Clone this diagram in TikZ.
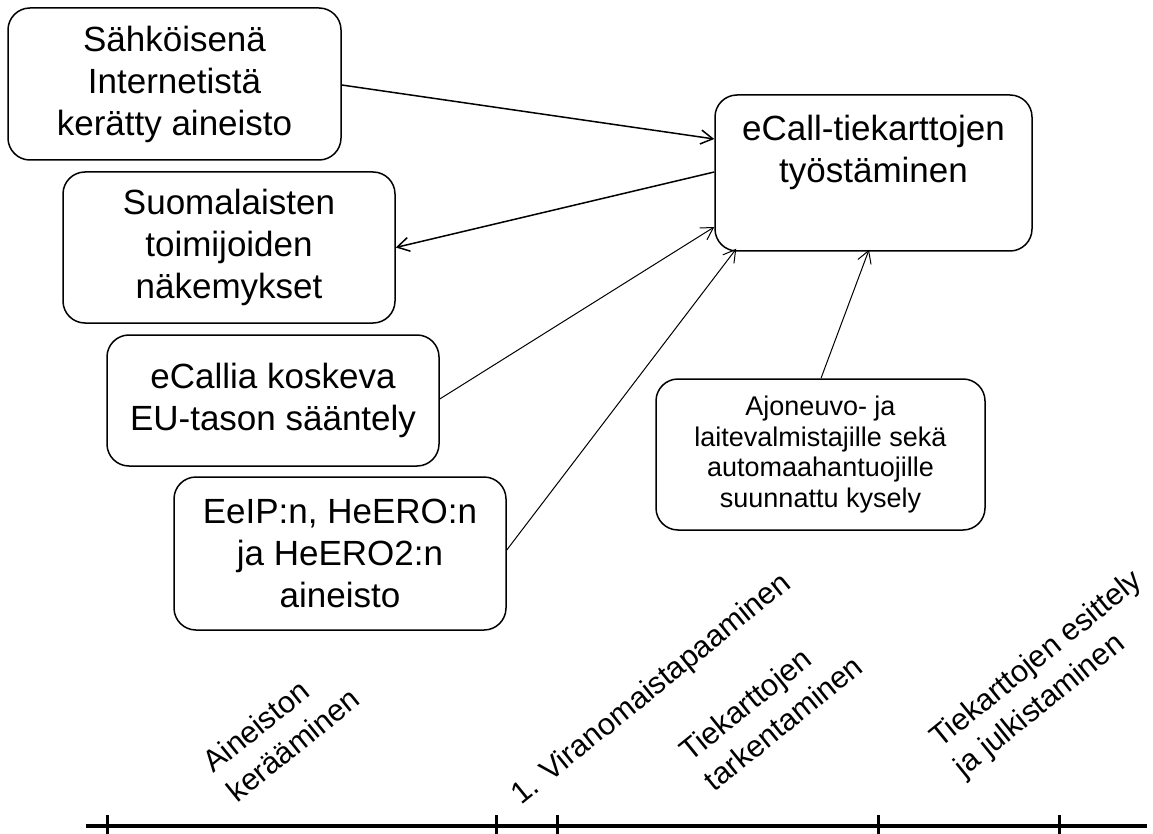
\documentclass[tikz,border=0pt]{standalone}
\usepackage{fontspec}
\setmainfont{Liberation Sans}
\usetikzlibrary{arrows.meta,calc}
\begin{document}
\begin{tikzpicture}[x=1pt,y=-1pt,
  box/.style={draw=black, line width=1.5pt, rounded corners=22pt, align=center, inner sep=0pt},
  bigtext/.style={font=\fontsize{35}{42}\selectfont},
  smalltext/.style={font=\fontsize{27}{30.5}\selectfont},
  lab/.style={font=\fontsize{30.5}{38}\selectfont, align=left, rotate=39, inner sep=0pt},
  arr/.style={-{Straight Barb[length=12pt,width=14pt]}},
  thick arrow/.style={arr, line width=1.5pt},
  thin arrow/.style={arr, line width=1pt},
  axis/.style={line width=4pt},
  tick/.style={line width=3pt}]
\useasboundingbox (0,0) rectangle (1153,834);

\node[box, bigtext, minimum width=333pt, minimum height=152pt] (b1) at (174.5,84)
  {Sähköisenä\\Internetistä\\kerätty aineisto};
\node[box, bigtext, minimum width=332pt, minimum height=151pt] (b2) at (229,247.5)
  {Suomalaisten\\toimijoiden\\näkemykset};
\node[box, bigtext, minimum width=332pt, minimum height=131pt] (b3) at (273,400.5)
  {eCallia koskeva\\EU-tason sääntely};
\node[box, bigtext, minimum width=332pt, minimum height=153pt] (b4) at (340,553.5)
  {EeIP:n, HeERO:n\\ja HeERO2:n\\aineisto};
\node[box, minimum width=317pt, minimum height=156pt] (b5) at (873.5,173) {};
\node[bigtext, align=center] (t5) at (873.5,152) {eCall-tiekarttojen\\työstäminen};
\node[box, smalltext, minimum width=329pt, minimum height=151pt] (b6) at (820.5,454.5)
  {Ajoneuvo- ja\\laitevalmistajille sekä\\automaahantuojille\\suunnattu kysely};

\coordinate (a1s) at ($(b1.east)+(0,1)$);
\coordinate (a1e) at ($(b5.west)+(0,-34)$);
\coordinate (a2s) at (b2.east);
\coordinate (a2e) at ($(b5.west)+(0,-1)$);
\coordinate (a3s) at ($(b3.east)+(0,-1.5)$);
\coordinate (a3e) at ($(b5.west)+(0,54)$);
\coordinate (a4s) at ($(b4.east)+(0,-3.5)$);
\coordinate (a4e) at ($(b5.south west)+(22,-3)$);
\coordinate (a5s) at ($(b6.north)+(0.5,0)$);
\coordinate (a5e) at ($(b5.south)+(-4.5,-2)$);

\draw[thick arrow] (a1s) -- (a1e);
\draw[thick arrow, {Straight Barb[length=12pt,width=14pt]}-] (a2s) -- (a2e);
\draw[thin arrow] (a3s) -- (a3e);
\draw[thin arrow] (a4s) -- (a4e);
\draw[thin arrow] (a5s) -- (a5e);

\node[lab] (l1) at (281,730) {Aineiston\\kerääminen};
\node[lab] (l2) at (652,690) {1. Viranomaistapaaminen};
\node[lab] (l3) at (771,708) {Tiekarttojen\\tarkentaminen};
\node[lab] (l4) at (1049,675) {Tiekarttojen esittely\\ja julkistaminen};

\draw[axis] (86,826) -- (1147,826);
\foreach \tx in {107,496,557,878,1059}
  \draw[tick] (\tx,815) -- (\tx,838);
\end{tikzpicture}
\end{document}
